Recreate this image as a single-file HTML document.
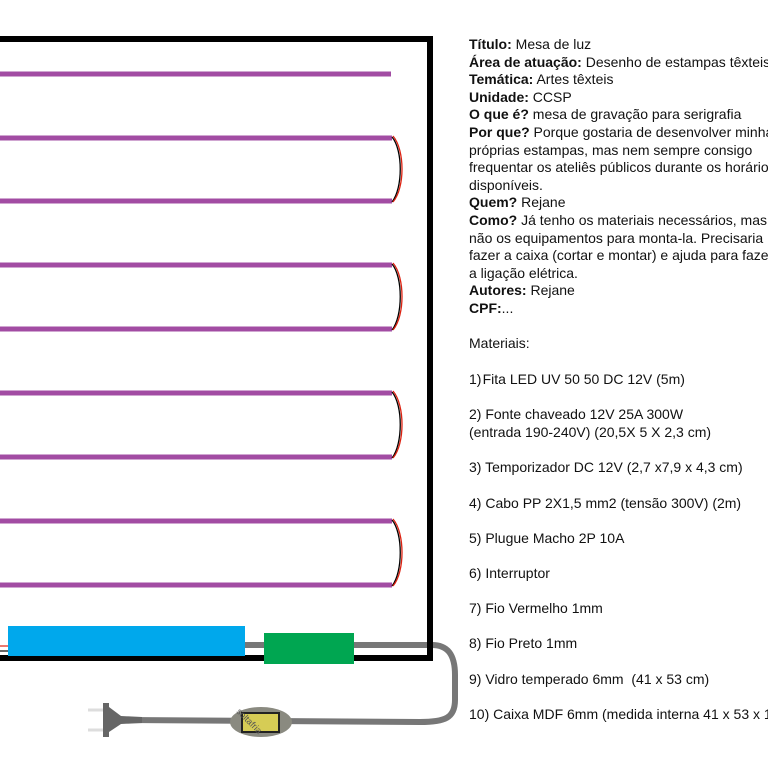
<!DOCTYPE html>
<html><head><meta charset="utf-8"><style>
html,body{margin:0;padding:0;background:#fff;width:768px;height:768px;overflow:hidden;position:relative}
svg{position:absolute;left:0;top:0}
.w{position:absolute;left:469px;top:0;width:299px;height:768px;overflow:hidden}
.t{position:absolute;left:0;top:36px;font-family:"Liberation Sans",sans-serif;font-size:14px;line-height:17.6px;color:#111;white-space:nowrap}
.m{position:absolute;left:0;font-family:"Liberation Sans",sans-serif;font-size:14px;line-height:17.6px;color:#111;white-space:nowrap}
b{font-weight:bold}
</style></head><body>
<svg width="768" height="768" viewBox="0 0 768 768">
<g stroke="#a24ca3" stroke-width="5" stroke-linecap="butt">
<line x1="0" y1="74" x2="391" y2="74"/>
<line x1="0" y1="138" x2="392" y2="138"/><line x1="0" y1="201" x2="392" y2="201"/>
<line x1="0" y1="265" x2="392" y2="265"/><line x1="0" y1="329" x2="392" y2="329"/>
<line x1="0" y1="393" x2="392" y2="393"/><line x1="0" y1="457" x2="392" y2="457"/>
<line x1="0" y1="521" x2="392" y2="521"/><line x1="0" y1="585" x2="392" y2="585"/>
</g>
<g fill="none" stroke-width="1.3">
<path d="M392 137 C403 150 403 188 392 202" stroke="#000"/>
<path d="M393 136 C405 150 405 188 393 202" stroke="#d21"/>
<path d="M392 264 C403 277 403 316 392 330" stroke="#000"/>
<path d="M393 263 C405 277 405 316 393 330" stroke="#d21"/>
<path d="M392 392 C403 405 403 444 392 458" stroke="#000"/>
<path d="M393 391 C405 405 405 444 393 458" stroke="#d21"/>
<path d="M392 520 C403 533 403 572 392 586" stroke="#000"/>
<path d="M393 519 C405 533 405 572 393 586" stroke="#d21"/>
</g>
<line x1="0" y1="646" x2="10" y2="646" stroke="#d21" stroke-width="1.2"/>
<line x1="0" y1="651" x2="10" y2="651" stroke="#000" stroke-width="1.2"/>
<path d="M245 645 L432 645 C448 645 455 655 455 675 L455 700 C455 718 445 722 420 722 L120 720" fill="none" stroke="#777" stroke-width="6"/>
<rect x="-5" y="39" width="435" height="619" fill="none" stroke="#000" stroke-width="6"/>
<rect x="8" y="626" width="237" height="30" fill="#00a8ec"/>
<rect x="264" y="633" width="90" height="31" fill="#00a651"/>
<line x1="88" y1="710" x2="104" y2="710" stroke="#ddd" stroke-width="3"/>
<line x1="88" y1="730" x2="104" y2="730" stroke="#ddd" stroke-width="3"/>
<path d="M103 703 L109 703 L109 707 L121 716 L142 717 L142 723 L121 724 L109 732 L109 737 L103 737 Z" fill="#666"/>
<ellipse cx="261" cy="722" rx="31" ry="15" fill="#8a8a80"/>
<rect x="242" y="713" width="37" height="19" fill="#d6cc55" stroke="#222" stroke-width="2"/>
<text x="236" y="712" transform="rotate(45 236 712)" font-family="Liberation Sans,sans-serif" font-size="9" fill="#555">soltafria</text>
</svg>
<div class="w">
<div class="t">
<b>Título:</b> Mesa de luz<br>
<b>Área de atuação:</b> Desenho de estampas têxteis<br>
<b>Temática:</b> Artes têxteis<br>
<b>Unidade:</b> CCSP<br>
<b>O que é?</b> mesa de gravação para serigrafia<br>
<b>Por que?</b> Porque gostaria de desenvolver minhas<br>
próprias estampas, mas nem sempre consigo<br>
frequentar os ateliês públicos durante os horários<br>
disponíveis.<br>
<b>Quem?</b> Rejane<br>
<b>Como?</b> Já tenho os materiais necessários, mas<br>
não os equipamentos para monta-la. Precisaria<br>
fazer a caixa (cortar e montar) e ajuda para fazer<br>
a ligação elétrica.<br>
<b>Autores:</b> Rejane<br>
<b>CPF:</b>...
</div>
<div class="m" style="top:335px">Materiais:</div>
<div class="m" style="top:371px">1)&#8202;Fita LED UV 50 50 DC 12V (5m)</div>
<div class="m" style="top:406px">2) Fonte chaveado 12V 25A 300W<br>(entrada 190-240V) (20,5X 5 X 2,3 cm)</div>
<div class="m" style="top:459px">3) Temporizador DC 12V (2,7 x7,9 x 4,3 cm)</div>
<div class="m" style="top:495px">4) Cabo PP 2X1,5 mm2 (tensão 300V) (2m)</div>
<div class="m" style="top:530px">5) Plugue Macho 2P 10A</div>
<div class="m" style="top:565px">6) Interruptor</div>
<div class="m" style="top:600px">7) Fio Vermelho 1mm</div>
<div class="m" style="top:635px">8) Fio Preto 1mm</div>
<div class="m" style="top:671px">9) Vidro temperado 6mm&nbsp; (41 x 53 cm)</div>
<div class="m" style="top:706px">10) Caixa MDF 6mm (medida interna 41 x 53 x 10 cm)</div>
</div>
</body></html>
